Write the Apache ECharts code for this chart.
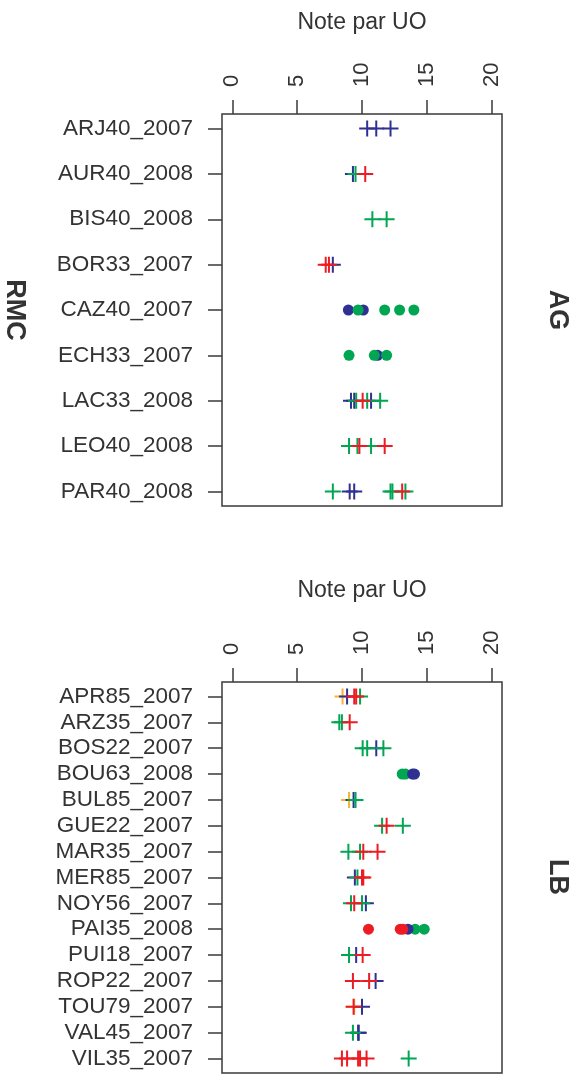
<!DOCTYPE html>
<html>
<head>
<meta charset="utf-8">
<script src="https://cdn.jsdelivr.net/npm/echarts@6/dist/echarts.min.js"></script>
<style>html,body{margin:0;padding:0;background:#fff}#c{width:578px;height:1077px}</style>
</head>
<body>
<div id="c"></div>
<script>
// ---- data ----
const xTicks = [0, 5, 10, 15, 20];
const catsTop = ['ARJ40_2007','AUR40_2008','BIS40_2008','BOR33_2007','CAZ40_2007','ECH33_2007','LAC33_2008','LEO40_2008','PAR40_2008'];
const catsBottom = ['APR85_2007','ARZ35_2007','BOS22_2007','BOU63_2008','BUL85_2007','GUE22_2007','MAR35_2007','MER85_2007','NOY56_2007','PAI35_2008','PUI18_2007','ROP22_2007','TOU79_2007','VAL45_2007','VIL35_2007'];

// top panel (RMC / AG)
const topBluePlus = [['ARJ40_2007',10.4],['ARJ40_2007',11.1],['ARJ40_2007',12.2],['AUR40_2008',9.3],['BOR33_2007',7.75],['LAC33_2008',9.15],['LAC33_2008',9.4],['LAC33_2008',10.7],['PAR40_2008',9.05],['PAR40_2008',9.4]];
const topGreenPlus = [['AUR40_2008',9.5],['BIS40_2008',10.8],['BIS40_2008',11.9],['LAC33_2008',9.55],['LAC33_2008',10.4],['LAC33_2008',11.4],['LEO40_2008',9.0],['LEO40_2008',9.65],['LEO40_2008',10.7],['PAR40_2008',7.75],['PAR40_2008',12.2],['PAR40_2008',12.35],['PAR40_2008',13.35]];
const topRedPlus = [['AUR40_2008',10.25],['BOR33_2007',7.2],['BOR33_2007',7.45],['LAC33_2008',10.05],['LEO40_2008',9.8],['LEO40_2008',11.75],['PAR40_2008',13.1]];
const topBlueDot = [['CAZ40_2007',8.95],['CAZ40_2007',10.1],['ECH33_2007',11.2]];
const topGreenDot = [['CAZ40_2007',9.7],['CAZ40_2007',11.75],['CAZ40_2007',12.9],['CAZ40_2007',14.0],['ECH33_2007',9.0],['ECH33_2007',10.95],['ECH33_2007',11.9]];

// bottom panel (LB)
const botOrangePlus = [['APR85_2007',8.5],['BUL85_2007',9.0],['TOU79_2007',9.4]];
const botBluePlus = [['APR85_2007',8.85],['BOS22_2007',11.1],['BUL85_2007',9.35],['MER85_2007',9.45],['NOY56_2007',10.3],['PUI18_2007',9.55],['ROP22_2007',11.05],['TOU79_2007',10.0],['VAL45_2007',9.7],['VAL45_2007',9.75]];
const botGreenPlus = [['APR85_2007',9.85],['ARZ35_2007',8.25],['ARZ35_2007',8.45],['BOS22_2007',10.05],['BOS22_2007',10.4],['BOS22_2007',11.65],['BUL85_2007',9.5],['GUE22_2007',11.55],['GUE22_2007',13.15],['MAR35_2007',8.95],['MAR35_2007',9.85],['MER85_2007',9.65],['NOY56_2007',9.15],['NOY56_2007',10.0],['PUI18_2007',9.0],['VAL45_2007',9.3],['VIL35_2007',13.6]];
const botRedPlus = [['APR85_2007',9.4],['APR85_2007',9.55],['ARZ35_2007',9.05],['GUE22_2007',11.9],['MAR35_2007',10.1],['MAR35_2007',11.2],['MER85_2007',10.0],['MER85_2007',10.1],['NOY56_2007',9.4],['PUI18_2007',10.05],['ROP22_2007',9.3],['ROP22_2007',10.55],['TOU79_2007',9.35],['VIL35_2007',8.45],['VIL35_2007',8.85],['VIL35_2007',9.7],['VIL35_2007',9.85],['VIL35_2007',10.35]];
const botGreenDot = [['BOU63_2008',13.1],['BOU63_2008',13.35],['PAI35_2008',14.1],['PAI35_2008',14.8]];
const botBlueDot = [['BOU63_2008',13.9],['BOU63_2008',14.05],['PAI35_2008',13.55]];
const botRedDot = [['PAI35_2008',10.5],['PAI35_2008',12.95],['PAI35_2008',13.15]];

// ---- styles ----
const COL = {blue:'#2E3192', green:'#00A651', red:'#ED1C24', orange:'#F9B233'};
const PLUS = 'path://M7,0H9V7H16V9H9V16H7V9H0V7H7Z';
const FONT = '"Liberation Sans", Arial, Helvetica, sans-serif';
const TXT = '#333';
const AX = '#3a3a3a';

function ser(panel, cats, pts, color, shape) {
  return {
    type: 'scatter', xAxisIndex: panel, yAxisIndex: panel,
    data: pts.map(p => [p[1], cats.indexOf(p[0]) + 1]),
    symbol: shape === 'plus' ? PLUS : 'circle',
    symbolSize: shape === 'plus' ? 16 : 11,
    itemStyle: {color: color, opacity: 1},
    silent: true, animation: false
  };
}
function xAx(i) {
  return {
    gridIndex: i, type: 'value', position: 'top', min: -0.8, max: 20.8,
    axisLine: {show: false, onZero: false},
    axisTick: {show: true, length: 14, customValues: xTicks, lineStyle: {color: AX, width: 1.5}},
    axisLabel: {customValues: xTicks, rotate: -90, margin: 27, fontSize: 22, color: TXT, fontFamily: FONT},
    splitLine: {show: false}
  };
}
function yAx(i, cats) {
  const vals = cats.map((c, k) => k + 1);
  const pad = (cats.length - 1) * 0.04;
  return {
    gridIndex: i, type: 'value', inverse: true, position: 'left', min: 1 - pad, max: cats.length + pad,
    axisLine: {show: false, onZero: false},
    axisTick: {show: true, length: 14, customValues: vals, lineStyle: {color: AX, width: 1.5}},
    axisLabel: {customValues: vals, margin: 29, fontSize: 22.5, color: TXT, fontFamily: FONT,
      padding: [4, 0, 0, 0],
      formatter: v => cats[Math.round(v) - 1] || ''},
    splitLine: {show: false}
  };
}

const chart = echarts.init(document.getElementById('c'), null, {renderer: 'canvas'});
chart.setOption({
  animation: false,
  backgroundColor: '#fff',
  grid: [
    {left: 222, width: 280, top: 114, height: 392, show: true, borderColor: AX, borderWidth: 1.5, backgroundColor: 'transparent'},
    {left: 222, width: 280, top: 682, height: 391, show: true, borderColor: AX, borderWidth: 1.5, backgroundColor: 'transparent'}
  ],
  xAxis: [xAx(0), xAx(1)],
  yAxis: [yAx(0, catsTop), yAx(1, catsBottom)],
  graphic: [
    {type: 'text', x: 362, y: 23, style: {text: 'Note par UO', fontSize: 23, fill: TXT, fontFamily: FONT, align: 'center', verticalAlign: 'middle'}},
    {type: 'text', x: 362, y: 591, style: {text: 'Note par UO', fontSize: 23, fill: TXT, fontFamily: FONT, align: 'center', verticalAlign: 'middle'}},
    {type: 'text', x: 14, y: 310, rotation: -Math.PI / 2, style: {text: 'RMC', fontSize: 27, fontWeight: 'bold', fill: TXT, fontFamily: FONT, align: 'center', verticalAlign: 'middle'}},
    {type: 'text', x: 557, y: 310, rotation: -Math.PI / 2, style: {text: 'AG', fontSize: 27, fontWeight: 'bold', fill: TXT, fontFamily: FONT, align: 'center', verticalAlign: 'middle'}},
    {type: 'text', x: 557, y: 877, rotation: -Math.PI / 2, style: {text: 'LB', fontSize: 27, fontWeight: 'bold', fill: TXT, fontFamily: FONT, align: 'center', verticalAlign: 'middle'}}
  ],
  series: [
    ser(0, catsTop, topBluePlus, COL.blue, 'plus'),
    ser(0, catsTop, topGreenPlus, COL.green, 'plus'),
    ser(0, catsTop, topRedPlus, COL.red, 'plus'),
    ser(0, catsTop, topBlueDot, COL.blue, 'dot'),
    ser(0, catsTop, topGreenDot, COL.green, 'dot'),
    ser(1, catsBottom, botOrangePlus, COL.orange, 'plus'),
    ser(1, catsBottom, botBluePlus, COL.blue, 'plus'),
    ser(1, catsBottom, botGreenPlus, COL.green, 'plus'),
    ser(1, catsBottom, botRedPlus, COL.red, 'plus'),
    ser(1, catsBottom, botGreenDot, COL.green, 'dot'),
    ser(1, catsBottom, botBlueDot, COL.blue, 'dot'),
    ser(1, catsBottom, botRedDot, COL.red, 'dot')
  ]
});
</script>
</body>
</html>
